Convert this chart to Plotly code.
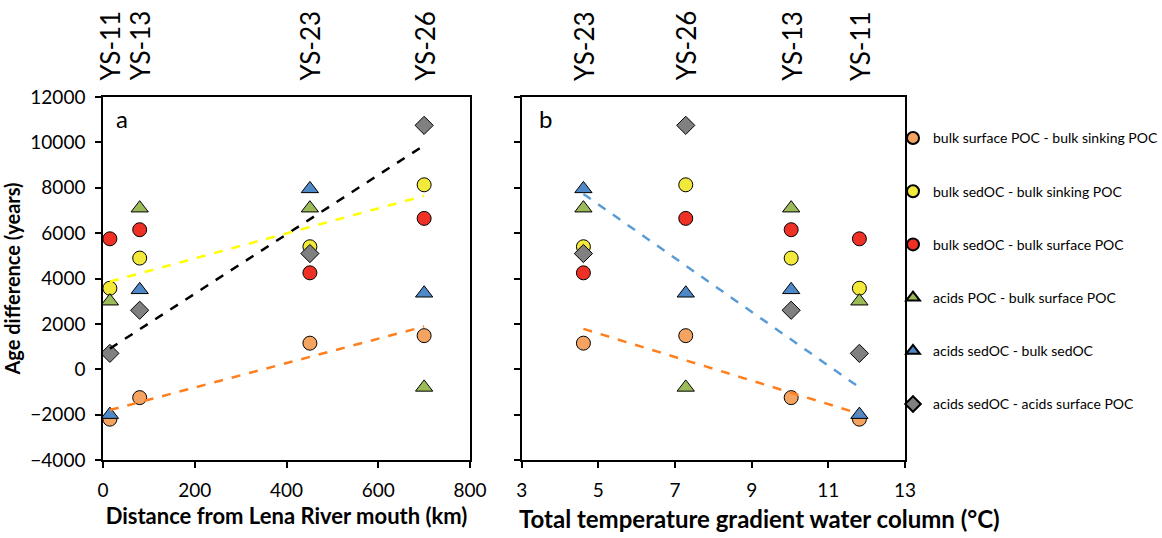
import numpy as np
import plotly.graph_objects as go

# ---- data ----
stations = ["YS-11", "YS-13", "YS-23", "YS-26"]
distance_km = [15, 80, 451, 700]
temp_gradient = [11.81, 10.03, 4.61, 7.28]

series_names = [
    "bulk surface POC - bulk sinking POC",
    "bulk sedOC - bulk sinking POC",
    "bulk sedOC - bulk surface POC",
    "acids POC - bulk surface POC",
    "acids sedOC - bulk sedOC",
    "acids sedOC - acids surface POC",
]
# values per station in order YS-11, YS-13, YS-23, YS-26
bulk_surf_minus_sink = [-2200, -1250, 1150, 1480]
bulk_sed_minus_sink = [3570, 4900, 5400, 8130]
bulk_sed_minus_surf = [5750, 6150, 4250, 6650]
acids_poc_minus_surf = [3000, 7100, 7100, -800]
acids_sed_minus_sed = [-2000, 3500, 7950, 3350]
acids_sed_minus_acids_surf = [700, 2600, 5100, 10750]

series_values = [bulk_surf_minus_sink, bulk_sed_minus_sink, bulk_sed_minus_surf,
                 acids_poc_minus_surf, acids_sed_minus_sed, acids_sed_minus_acids_surf]
series_colors = ["#F4A460", "#F2E93A", "#EE3124", "#9BBB59", "#4F88C6", "#808080"]
series_symbols = ["circle", "circle", "circle", "triangle-up", "triangle-up", "diamond"]
series_sizes = [14, 14, 14, 15, 15, 14]

# trend lines: (series index, line colour)
trends_a = [(5, "#000000"), (1, "#FFFF00"), (0, "#FF7F1E")]
trends_b = [(4, "#5B9BD5"), (0, "#FF7F1E")]

FONT = "Lato"

fig = go.Figure()

for i, name in enumerate(series_names):
    for panel, xs in (("a", distance_km), ("b", temp_gradient)):
        fig.add_trace(go.Scatter(
            x=xs, y=series_values[i], mode="markers", name=name,
            legendgroup=name, showlegend=(panel == "a"),
            xaxis="x" if panel == "a" else "x2", yaxis="y" if panel == "a" else "y2",
            marker=dict(symbol=series_symbols[i], size=series_sizes[i],
                        color=series_colors[i], line=dict(color="#000000", width=1)),
        ))

def add_trend(xs, idx, color, xaxis, yaxis):
    coef = np.polyfit(xs, series_values[idx], 1)
    xr = np.array([min(xs), max(xs)])
    fig.add_trace(go.Scatter(
        x=xr, y=np.polyval(coef, xr), mode="lines", showlegend=False, hoverinfo="skip",
        xaxis=xaxis, yaxis=yaxis, line=dict(color=color, width=2.5, dash="dash"),
    ))

for idx, col in trends_a:
    add_trend(distance_km, idx, col, "x", "y")
for idx, col in trends_b:
    add_trend(temp_gradient, idx, col, "x2", "y2")

tickfont = dict(family=FONT, size=19, color="#000000")
axis_common = dict(showgrid=False, zeroline=False, showline=True, linecolor="#000000",
                   linewidth=1.5, mirror=True, ticks="outside", ticklen=6,
                   tickcolor="#000000", tickwidth=1.5, tickfont=tickfont)

W, H = 1162, 538
ML, MR, MT, MB = 103, 10, 97, 78
PW = W - ML - MR
PH = H - MT - MB

def px(xpix):
    return (xpix - ML) / PW

def py(ypix):
    return (H - MB - ypix) / PH

dom_a = [0, px(470)]
dom_b = [px(521.7), px(905)]

annotations = [
    dict(text="a", x=0.03, y=0.985, xref="x domain", yref="y domain", showarrow=False,
         xanchor="left", yanchor="top", font=dict(family=FONT, size=24)),
    dict(text="b", x=0.04, y=0.985, xref="x2 domain", yref="y2 domain", showarrow=False,
         xanchor="left", yanchor="top", font=dict(family=FONT, size=24)),
    dict(text="<b>Total temperature gradient water column (°C)</b>",
         x=px(517), y=py(518), xref="paper", yref="paper", yanchor="middle", xanchor="left",
         showarrow=False, font=dict(family=FONT, size=24)),
]
# station labels above each panel
for xs, xref in ((distance_km, "x"), (temp_gradient, "x2")):
    for st, xv in zip(stations, xs):
        annotations.append(dict(text=st, x=xv, y=py(45.5), xref=xref, yref="paper",
                                textangle=-90, showarrow=False, xanchor="center",
                                yanchor="middle", font=dict(family=FONT, size=26)))

fig.update_layout(
    width=W, height=H,
    margin=dict(l=ML, r=MR, t=MT, b=MB, autoexpand=False),
    paper_bgcolor="white", plot_bgcolor="white",
    font=dict(family=FONT, color="#000000"),
    xaxis=dict(domain=dom_a, range=[0, 800], tickvals=[0, 200, 400, 600, 800], anchor="y",
               ticklabelstandoff=6,
               title=dict(text="<b>Distance from Lena River mouth (km)</b>",
                          font=dict(family=FONT, size=22), standoff=9),
               **axis_common),
    yaxis=dict(domain=[0, 1], range=[-4000, 12000], tickvals=list(range(-4000, 12001, 2000)),
               tickformat="d", anchor="x", ticklabelstandoff=6,
               title=dict(text="<b>Age difference (years)</b>",
                          font=dict(family=FONT, size=20), standoff=5),
               **axis_common),
    xaxis2=dict(domain=dom_b, range=[3, 13], tickvals=[3, 5, 7, 9, 11, 13], anchor="y2",
                ticklabelstandoff=6, **axis_common),
    yaxis2=dict(domain=[0, 1], range=[-4000, 12000], tickvals=list(range(-4000, 12001, 2000)),
                anchor="x2", showticklabels=False, **axis_common),
    legend=dict(x=px(893), y=0.93, xref="paper", yref="paper", xanchor="left", yanchor="top",
                font=dict(family=FONT, size=14, color="#000000"),
                itemsizing="constant", tracegroupgap=32, traceorder="grouped",
                bgcolor="rgba(0,0,0,0)", itemwidth=30),
    annotations=annotations,
)

fig.write_html("out.html")
